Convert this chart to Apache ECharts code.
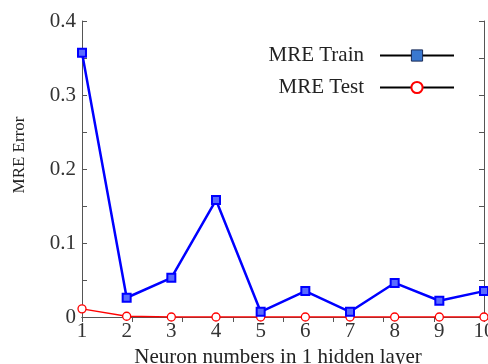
<!DOCTYPE html>
<html>
<head>
<meta charset="utf-8">
<script src="https://cdn.jsdelivr.net/npm/echarts@6/dist/echarts.min.js"></script>
<style>
  html, body { margin: 0; padding: 0; background: #fff; }
  #chart { width: 488px; height: 364px; }
</style>
</head>
<body>
<div id="chart"></div>
<script>
const neurons = [1, 2, 3, 4, 5, 6, 7, 8, 9, 10];
const mreTrain = [0.357, 0.026, 0.053, 0.158, 0.007, 0.035, 0.007, 0.046, 0.022, 0.035];
const mreTest = [0.011, 0.001, 0, 0, 0, 0, 0, 0, 0, 0];
const yTicks = [0, 0.1, 0.2, 0.3, 0.4];

const font = 'Liberation Serif';
const axisColor = '#555';

const myChart = echarts.init(document.getElementById('chart'));

const option = {
  animation: false,
  grid: { left: 82, right: 4, top: 21, bottom: 47, containLabel: false, outerBoundsMode: 'none' },
  legend: {
    orient: 'vertical',
    right: 28,
    top: 40,
    align: 'right',
    itemWidth: 74,
    itemHeight: 14,
    itemGap: 11,
    textStyle: { fontFamily: font, fontSize: 21, color: '#222', padding: [0, 11, 0, 0] },
    lineStyle: { color: '#000', width: 2 },
    data: [
      { name: 'MRE Train', itemStyle: { color: '#3a78d0', borderColor: '#1a2a55', borderWidth: 1 } },
      { name: 'MRE Test', itemStyle: { color: '#fff', borderColor: '#ff0000', borderWidth: 2 } },
    ],
  },
  xAxis: [
    {
      type: 'value',
      min: 1,
      max: 10,
      interval: 1,
      name: 'Neuron numbers in 1 hidden layer',
      nameLocation: 'middle',
      nameGap: 26,
      nameTextStyle: { fontFamily: font, fontSize: 21, color: '#222', padding: [0, 10, 0, 0] },
      axisLine: { lineStyle: { color: axisColor, width: 1 } },
      axisTick: { show: false },
      splitLine: { show: false },
      axisLabel: { fontFamily: font, fontSize: 21, color: '#333', margin: 4 },
    },
    {
      type: 'value',
      position: 'top',
      min: 0,
      max: 8,
      interval: 1,
      axisLine: { show: true, lineStyle: { color: axisColor, width: 1 } },
      axisTick: { show: true, inside: true, length: 5, lineStyle: { color: axisColor } },
      axisLabel: { show: false },
      splitLine: { show: false },
    },
  ],
  yAxis: [
    {
      type: 'value',
      min: 0,
      max: 0.4,
      interval: 0.05,
      name: 'MRE Error',
      nameLocation: 'middle',
      nameGap: 54,
      nameTextStyle: { fontFamily: font, fontSize: 17, color: '#222', padding: [0, 0, 0, 28] },
      axisLine: { show: true, lineStyle: { color: axisColor, width: 1 } },
      axisTick: { show: true, inside: true, length: 5, lineStyle: { color: axisColor } },
      splitLine: { show: false },
      axisLabel: {
        fontFamily: font,
        fontSize: 21,
        color: '#333',
        margin: 6,
        formatter: v => {
          const hit = yTicks.find(t => Math.abs(t - v) < 1e-9);
          return hit === undefined ? '' : String(hit);
        },
      },
    },
    {
      type: 'value',
      position: 'right',
      min: 0,
      max: 0.4,
      interval: 0.05,
      axisLine: { show: true, lineStyle: { color: axisColor, width: 1 } },
      axisTick: { show: true, inside: true, length: 5, lineStyle: { color: axisColor } },
      axisLabel: { show: false },
      splitLine: { show: false },
    },
  ],
  series: [
    {
      name: 'MRE Test',
      type: 'line',
      xAxisIndex: 0,
      yAxisIndex: 0,
      data: neurons.map((n, i) => [n, mreTest[i]]),
      symbol: 'circle',
      symbolSize: 8,
      itemStyle: { color: '#fff', borderColor: '#ff0000', borderWidth: 1.3 },
      lineStyle: { color: '#ff0000', width: 1.3 },
      z: 2,
    },
    {
      name: 'MRE Train',
      type: 'line',
      xAxisIndex: 0,
      yAxisIndex: 0,
      data: neurons.map((n, i) => [n, mreTrain[i]]),
      symbol: 'rect',
      symbolSize: 8,
      itemStyle: { color: '#5a6cff', borderColor: '#0000ff', borderWidth: 2 },
      lineStyle: { color: '#0000ff', width: 2.5 },
      z: 3,
    },
  ],
};
myChart.setOption(option);
</script>
</body>
</html>
